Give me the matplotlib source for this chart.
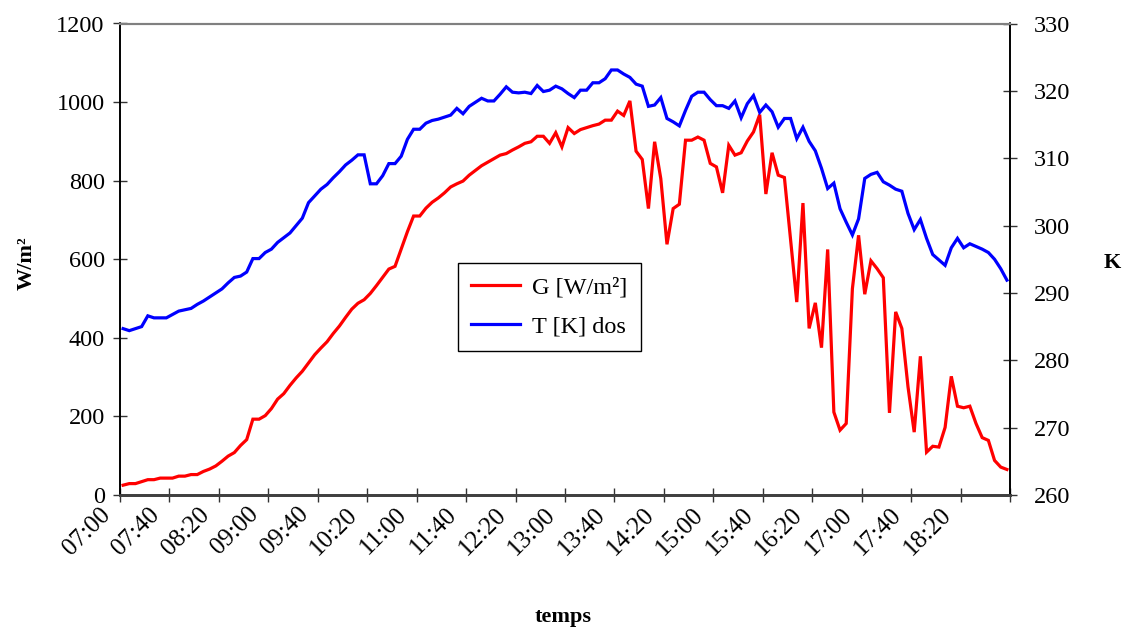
import matplotlib
matplotlib.use("Agg")
import matplotlib.pyplot as plt
import matplotlib.transforms as mtransforms
import numpy as np

# ---- data (5-minute samples, 07:00 -> 18:55) ----
G_wm2 = [25, 29, 29, 34, 39, 39, 43, 43, 43, 48, 48, 52, 52, 60, 66, 74, 86, 99, 108, 126,
         141, 193, 193, 202, 220, 244, 258, 279, 298, 315, 336, 357, 374, 390, 411, 430, 452, 473, 488, 497,
         513, 533, 554, 575, 582, 626, 670, 710, 710, 730, 745, 756, 769, 784, 792, 799, 814, 826, 838, 847,
         856, 865, 869, 878, 886, 895, 899, 913, 913, 895, 922, 886, 935, 920, 930, 935, 940, 944, 954, 954,
         977, 966, 1003, 875, 854, 729, 899, 805, 638, 729, 740, 903, 903, 911, 903, 844, 835, 769, 890, 865,
         871, 901, 924, 968, 766, 871, 814, 808, 650, 491, 743, 424, 489, 375, 625, 211, 165, 182, 525, 661,
         511, 596, 576, 553, 209, 466, 424, 275, 160, 353, 109, 124, 122, 172, 302, 226, 222, 226, 182, 146,
         139, 88, 71, 65]

T_K = [284.7, 284.4, 284.7, 285.0, 286.6, 286.3, 286.3, 286.3, 286.8, 287.3, 287.5, 287.7, 288.3, 288.8, 289.4,
       290.0, 290.6, 291.5, 292.3, 292.5, 293.1, 295.1, 295.1, 296.0, 296.5, 297.5, 298.2, 298.9, 300.0, 301.1,
       303.4, 304.4, 305.4, 306.1, 307.1, 308.0, 309.0, 309.7, 310.5, 310.5, 306.2, 306.2, 307.4, 309.2, 309.2,
       310.3, 312.8, 314.3, 314.3, 315.2, 315.6, 315.8, 316.1, 316.4, 317.4, 316.6, 317.7, 318.3, 318.9, 318.5,
       318.5, 319.5, 320.6, 319.8, 319.7, 319.8, 319.6, 320.8, 319.9, 320.1, 320.7, 320.3, 319.6, 319.0, 320.1,
       320.1, 321.2, 321.2, 321.8, 323.1, 323.1, 322.5, 322.0, 321.0, 320.7, 317.7, 317.9, 319.0, 315.9, 315.4,
       314.8, 317.1, 319.2, 319.8, 319.8, 318.7, 317.8, 317.8, 317.4, 318.5, 316.0, 318.1, 319.3, 316.8, 317.9,
       316.9, 314.6, 315.9, 315.9, 312.9, 314.6, 312.5, 311.1, 308.5, 305.5, 306.3, 302.5, 300.5, 298.6, 301.0,
       307.0, 307.6, 307.9, 306.5, 306.0, 305.4, 305.1, 301.8, 299.4, 300.9, 298.1, 295.7, 294.9, 294.1, 296.7,
       298.1, 296.7, 297.3, 296.9, 296.5, 296.0, 295.0, 293.6, 291.9]

tick_labels = ["07:00", "07:40", "08:20", "09:00", "09:40", "10:20", "11:00", "11:40", "12:20",
               "13:00", "13:40", "14:20", "15:00", "15:40", "16:20", "17:00", "17:40", "18:20"]

assert len(G_wm2) == len(T_K)
n = len(G_wm2)
x = np.arange(n) + 0.5  # categories centred between tick marks

plt.rcParams['font.family'] = ['Liberation Serif', 'DejaVu Serif']
FS = 17.5
FS_X = 18
FS_LAB = 16

fig = plt.figure(figsize=(11.25, 6.29), dpi=100)
ax = fig.add_axes([120/1125, 1-495/629, 890/1125, (495-23.5)/629])
ax2 = ax.twinx()

l1, = ax.plot(x, G_wm2, color='#ff0000', lw=2.3, solid_joinstyle='miter')
l2, = ax2.plot(x, T_K, color='#0000ff', lw=2.3, solid_joinstyle='miter')

ax.set_xlim(0, n)
ax.set_ylim(0, 1200)
ax2.set_ylim(260, 330)
ax.set_yticks(np.arange(0, 1201, 200))
ax2.set_yticks(np.arange(260, 331, 10))

ticks = np.arange(0, n + 1, 8)
ax.set_xticks(ticks)
ax.set_xticklabels([])

# rotated category labels placed just below each labelled tick
base = mtransforms.blended_transform_factory(ax.transData, ax.transAxes)
offset = mtransforms.ScaledTranslation(-13/100, -16/100, fig.dpi_scale_trans)
for t, lab in zip(ticks, tick_labels):
    ax.text(t, 0, lab, transform=base + offset, rotation=45, rotation_mode='anchor',
            ha='right', va='center', fontsize=FS_X, clip_on=False)

for a in (ax, ax2):
    a.tick_params(axis='both', direction='inout', length=10, width=1.0, color='#333333',
                  labelsize=FS, pad=6)
ax.tick_params(axis='y', pad=6)
ax2.tick_params(axis='y', pad=12)

for a in (ax, ax2):
    a.spines['top'].set_color('#808080')
    a.spines['top'].set_linewidth(1.5)
    a.spines['bottom'].set_color('#404040')
    a.spines['bottom'].set_linewidth(2)
    a.spines['left'].set_color('black')
    a.spines['right'].set_color('black')
    a.spines['left'].set_linewidth(1.2)
    a.spines['right'].set_linewidth(1.2)

fig.text(27/1125, 1-263/629, "W/m²", rotation=90, fontsize=FS_LAB, fontweight='bold',
         ha='center', va='center')
fig.text(1112/1125, 1-263/629, "K", fontsize=FS_LAB, fontweight='bold', ha='center', va='center')
fig.text(563/1125, 1-617/629, "temps", fontsize=FS_LAB, fontweight='bold', ha='center', va='center')

leg = ax2.legend([l1, l2], ["G [W/m²]", "T [K] dos"], loc='upper left',
                 bbox_to_anchor=(458/1125, 1-263/629), bbox_transform=fig.transFigure,
                 borderaxespad=0, fancybox=False, shadow=False, framealpha=1,
                 edgecolor='black', fontsize=FS, handlelength=2.0, labelspacing=0.7,
                 borderpad=0.55, handletextpad=0.5)
leg.get_frame().set_linewidth(1.0)

fig.savefig("out.png", dpi=100)
